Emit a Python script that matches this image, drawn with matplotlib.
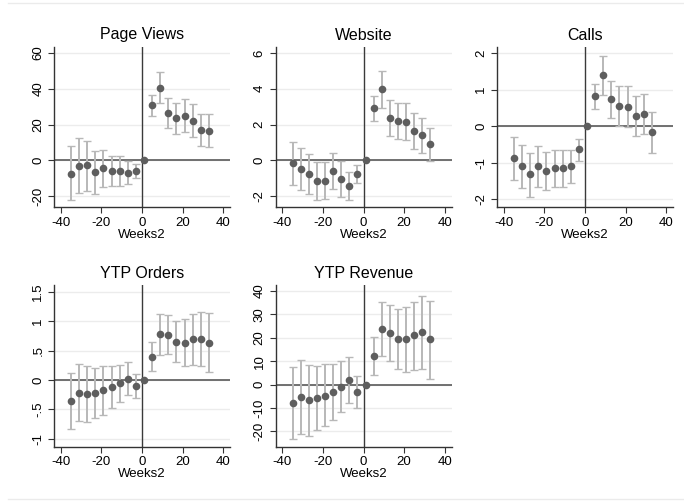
import numpy as np
import matplotlib
matplotlib.use("Agg")
import matplotlib.pyplot as plt
from matplotlib.lines import Line2D

plt.rcParams['font.family'] = ['Liberation Sans', 'DejaVu Sans']

nan = np.nan
weeks = [-35, -31, -27, -23, -19, -15, -11, -7, -3, 1, 5, 9, 13, 17, 21, 25, 29, 33]

# Page Views
pv = [-7.5, -3.0, -2.7, -6.8, -4.5, -5.8, -5.8, -7.0, -6.2, 0, 30.7, 40.7, 26.5, 23.6, 25.0, 22.1, 17.0, 16.6]
pv_lo = [-22.4, -18.3, -17.0, -18.6, -15.0, -14.2, -14.2, -13.3, -10.1, nan, 24.9, 32.3, 18.1, 14.8, 15.9, 12.9, 8.0, 7.5]
pv_hi = [7.9, 12.7, 11.0, 4.9, 6.0, 2.6, 2.6, -0.2, -2.2, nan, 36.3, 49.2, 35.0, 32.1, 34.4, 31.4, 26.0, 25.8]

# Website
web = [-0.17, -0.49, -0.77, -1.16, -1.14, -0.60, -1.05, -1.42, -0.77, 0, 2.90, 3.96, 2.34, 2.20, 2.15, 1.64, 1.40, 0.90]
web_lo = [-1.40, -1.64, -1.90, -2.24, -2.19, -1.59, -2.06, -2.20, -1.25, nan, 2.19, 2.92, 1.35, 1.18, 1.12, 0.64, 0.41, -0.06]
web_hi = [1.03, 0.71, 0.37, -0.07, -0.09, 0.39, -0.04, -0.65, -0.26, nan, 3.60, 5.00, 3.35, 3.21, 3.21, 2.65, 2.39, 1.83]

# Calls
calls = [-0.87, -1.08, -1.32, -1.08, -1.22, -1.13, -1.15, -1.08, -0.63, 0, 0.82, 1.40, 0.74, 0.55, 0.54, 0.28, 0.34, -0.16]
calls_lo = [-1.46, -1.68, -1.93, -1.65, -1.75, -1.65, -1.65, -1.54, -0.94, nan, 0.46, 0.85, 0.22, 0.01, -0.03, -0.28, -0.21, -0.72]
calls_hi = [-0.29, -0.50, -0.73, -0.54, -0.70, -0.65, -0.66, -0.65, -0.34, nan, 1.16, 1.92, 1.25, 1.09, 1.11, 0.83, 0.88, 0.39]

# YTP Orders
orders = [-0.36, -0.22, -0.24, -0.22, -0.18, -0.12, -0.05, 0.02, -0.10, 0, 0.39, 0.78, 0.77, 0.65, 0.63, 0.69, 0.70, 0.63]
orders_lo = [-0.83, -0.70, -0.72, -0.65, -0.59, -0.48, -0.37, -0.26, -0.31, nan, 0.15, 0.43, 0.44, 0.30, 0.23, 0.26, 0.24, 0.13]
orders_hi = [0.12, 0.27, 0.23, 0.20, 0.23, 0.23, 0.26, 0.30, 0.10, nan, 0.64, 1.12, 1.11, 1.01, 1.03, 1.12, 1.16, 1.14]

# YTP Revenue
rev = [-7.7, -5.3, -6.7, -5.7, -4.7, -3.3, -0.9, 2.0, -3.3, 0, 12.2, 23.7, 22.1, 19.3, 19.3, 21.1, 22.3, 19.3]
rev_lo = [-23.1, -21.0, -21.9, -19.6, -17.9, -15.0, -11.6, -7.7, -10.0, nan, 4.2, 12.1, 10.2, 6.5, 5.3, 6.3, 6.8, 2.5]
rev_hi = [7.7, 10.7, 8.4, 8.0, 8.6, 8.9, 10.1, 11.7, 3.6, nan, 20.4, 35.5, 33.9, 32.2, 33.3, 35.5, 37.8, 35.9]

xticks = [-40, -20, 0, 20, 40]

panels = [
    ("Page Views", pv, pv_lo, pv_hi, [-20, 0, 20, 40, 60], ["-20", "0", "20", "40", "60"]),
    ("Website", web, web_lo, web_hi, [-2, 0, 2, 4, 6], ["-2", "0", "2", "4", "6"]),
    ("Calls", calls, calls_lo, calls_hi, [-2, -1, 0, 1, 2], ["-2", "-1", "0", "1", "2"]),
    ("YTP Orders", orders, orders_lo, orders_hi, [-1, -0.5, 0, 0.5, 1, 1.5], ["-1", "-.5", "0", ".5", "1", "1.5"]),
    ("YTP Revenue", rev, rev_lo, rev_hi, [-20, -10, 0, 10, 20, 30, 40], ["-20", "-10", "0", "10", "20", "30", "40"]),
]

# pixel boxes: left, top, bottom and y limits
boxes = [
    (54, 47, 207, (-26.15, 63.36)),
    (275.5, 47, 207, (-2.615, 6.336)),
    (497, 47, 207, (-2.21, 2.17)),
    (54, 285, 446.7, (-1.136, 1.614)),
    (275.5, 285, 446.7, (-26.6, 42.6)),
]

W, H = 684, 504
fig = plt.figure(figsize=(W / 100, H / 100), dpi=100)
fig.patch.set_facecolor('white')

for (title, y, lo, hi, yt, ytl), (l, t, b, yl) in zip(panels, boxes):
    ax = fig.add_axes([l / W, (H - b) / H, 176 / W, (b - t) / H])
    x = np.array(weeks, dtype=float)
    y = np.array(y, dtype=float)
    lo = np.array(lo, dtype=float)
    hi = np.array(hi, dtype=float)
    for v in yt:
        ax.axhline(v, color='#ececec', lw=1.0, zorder=0)
    ax.axhline(0, color='#5a5a5a', lw=1.2, zorder=1)
    ax.axvline(0, color='#3a3a3a', lw=1.0, zorder=1)
    ok = ~np.isnan(lo)
    ax.errorbar(x[ok], (lo[ok] + hi[ok]) / 2, yerr=(hi[ok] - lo[ok]) / 2, fmt='none',
                ecolor='#b8b8b8', elinewidth=1.4, capsize=2.6, capthick=1.0, zorder=2)
    ax.plot(x, y, 'o', color='#5e5e5e', markersize=5.5, markeredgewidth=0, zorder=3)
    ax.set_xlim(-43.4, 43.4)
    ax.set_ylim(*yl)
    ax.set_xticks(xticks)
    ax.set_xticklabels([str(v) for v in xticks])
    ax.set_yticks(yt)
    ax.set_yticklabels(ytl, rotation=90, va='center')
    ax.tick_params(length=4, width=0.8, color='#333333', labelsize=9.5, pad=3)
    for s in ['top', 'right']:
        ax.spines[s].set_visible(False)
    for s in ['left', 'bottom']:
        ax.spines[s].set_color('#333333')
        ax.spines[s].set_linewidth(1.0)
    ax.set_xlabel("Weeks2", fontsize=9.5, labelpad=0)
    ax.set_title(title, fontsize=11.5, pad=5.4)

# thin frame lines of the combined graph
fig.add_artist(Line2D([8 / W, 1], [1 - 2.5 / H, 1 - 2.5 / H], color='#ebebeb', lw=1))
fig.add_artist(Line2D([8 / W, 1], [1 - 499 / H, 1 - 499 / H], color='#ebebeb', lw=1))

fig.savefig('out.png', dpi=100, facecolor='white')
